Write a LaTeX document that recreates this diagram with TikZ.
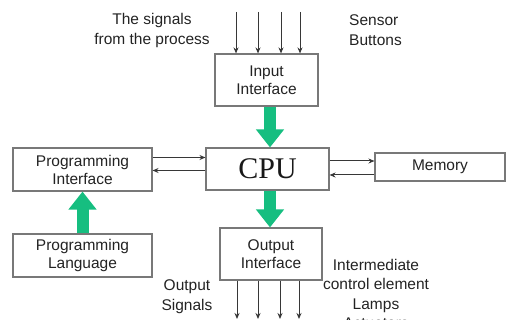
\documentclass[tikz,border=0pt]{standalone}
\usepackage{fontspec}
\setmainfont{Liberation Sans}
\newfontfamily\cpufont{Liberation Serif}
\usetikzlibrary{arrows.meta}
\definecolor{boxgray}{RGB}{120,120,120}
\definecolor{txtgray}{RGB}{35,35,35}
\definecolor{arrgray}{RGB}{55,55,55}
\definecolor{greenarr}{RGB}{22,190,128}
\tikzset{
  box/.style={draw=boxgray, line width=1.1pt, fill=white, inner sep=0pt, align=center,
    text=txtgray, font=\fontsize{15.5}{18}\selectfont},
  lbl/.style={inner sep=0pt, align=center, text=txtgray, font=\fontsize{15.5}{20}\selectfont},
  sig/.style={draw=arrgray, line width=1pt, -{Stealth[length=6pt,width=5pt]}},
  bigarrow/.style={draw=greenarr, line width=12pt, -{Triangle[length=18pt,width=27pt]}},
}
\begin{document}
\begin{tikzpicture}[x=1pt,y=-1pt]
\useasboundingbox (0,0) rectangle (506,320);
% boxes
\node[box, minimum width=103pt, minimum height=52pt] (inp) at (266.5,80) {Input\\Interface};
\node[box, minimum width=123pt, minimum height=42pt, font=\cpufont\fontsize{30}{30}\selectfont, text=black!90] (cpu) at (267.5,169) {CPU};
\node[box, minimum width=130pt, minimum height=28pt] (mem) at (440,167) {Memory};
\node[box, minimum width=139pt, minimum height=43pt] (pi) at (82.5,169.5) {Programming\\Interface};
\node[box, minimum width=139pt, minimum height=43pt] (pl) at (82.5,255.5) {Programming\\Language};
\node[box, minimum width=102pt, minimum height=52pt] (out) at (271,254) {Output\\Interface};
% labels
\node[lbl] (sigtxt) at (152,30) {The signals\\from the process};
\node[lbl, anchor=west, align=left] (sens) at (349,30) {Sensor\\Buttons};
\node[lbl] (outsig) at (187,297) {Output\\Signals};
\node[lbl, font=\fontsize{15.5}{19.5}\selectfont] (inter) at (376,294) {Intermediate\\control element\\Lamps\\Actuators};
% input signals
\foreach \x [count=\i] in {236,258,281,300} {
  \coordinate (in\i) at (\x,12);
  \draw[sig] (in\i) -- (in\i |- inp.north);
}
% output signals
\foreach \x [count=\i] in {237,258,280,299} {
  \coordinate (o\i) at (\x,319);
  \draw[sig] (o\i |- out.south) -- (o\i);
}
% CPU <-> PI
\draw[sig] ([yshift=12pt]pi.east) -- ([yshift=12pt]pi.east -| cpu.west);
\draw[sig] ([yshift=-1pt]pi.east -| cpu.west) -- ([yshift=-1pt]pi.east);
% CPU <-> Memory
\draw[sig] ([yshift=6pt]mem.west -| cpu.east) -- ([yshift=6pt]mem.west);
\draw[sig] ([yshift=-8pt]mem.west) -- ([yshift=-8pt]mem.west -| cpu.east);
% green arrows
\draw[bigarrow] ([xshift=3.5pt]inp.south) -- ([xshift=2.5pt]cpu.north);
\draw[bigarrow] ([xshift=2.5pt]cpu.south) -- ([xshift=-1pt]out.north);
\draw[bigarrow] (pl.north) -- (pi.south);
\end{tikzpicture}
\end{document}
